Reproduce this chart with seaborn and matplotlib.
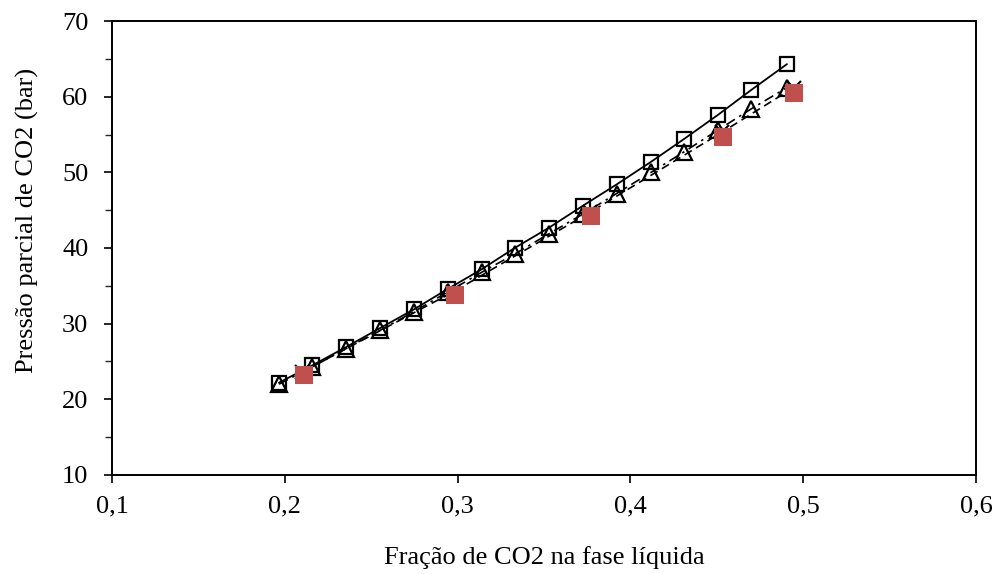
import matplotlib
matplotlib.use("Agg")
import matplotlib.pyplot as plt
import seaborn as sns
import numpy as np
from matplotlib.ticker import MultipleLocator, FuncFormatter

# Data
x_sq = [0.1966, 0.2160, 0.2354, 0.2550, 0.2748, 0.2944, 0.3140, 0.3330, 0.3530, 0.3726,
        0.3920, 0.4120, 0.4310, 0.4507, 0.4700, 0.4906]
y_sq = [22.2, 24.5, 26.9, 29.4, 31.9, 34.6, 37.2, 40.0, 42.7, 45.6,
        48.4, 51.4, 54.4, 57.6, 60.9, 64.3]

x_tri = [0.1966, 0.2160, 0.2354, 0.2550, 0.2748, 0.2944, 0.3140, 0.3330, 0.3530, 0.3726,
         0.3920, 0.4120, 0.4310, 0.4507, 0.4700, 0.4906]
y_tri = [22.0, 24.3, 26.7, 29.1, 31.6, 34.2, 36.8, 39.2, 41.9, 44.5,
         47.2, 50.0, 52.7, 55.6, 58.4, 61.2]

x_x = [0.2100, 0.2975, 0.3765, 0.4530, 0.4945]
y_x = [23.6, 34.2, 44.7, 55.3, 61.2]

x_red = [0.2111, 0.2985, 0.3770, 0.4536, 0.4947]
y_red = [23.2, 33.8, 44.2, 54.7, 60.5]

xticks = [0.1, 0.2, 0.3, 0.4, 0.5, 0.6]
yticks = [10, 20, 30, 40, 50, 60, 70]

sns.set_style("ticks")
plt.rcParams['font.family'] = ['Liberation Serif', 'DejaVu Serif']
plt.rcParams['text.color'] = 'black'
plt.rcParams['axes.labelcolor'] = 'black'

fig = plt.figure(figsize=(10.04, 5.74), dpi=100)
ax = fig.add_axes([0.1116, 0.1725, 0.8605, 0.7909])

sns.lineplot(x=x_tri, y=y_tri, ax=ax, sort=False, color='black', lw=1.2,
             linestyle=(0, (6, 3, 1.5, 3)), marker='^', markersize=11,
             markerfacecolor='none', markeredgecolor='black', markeredgewidth=1.6, zorder=2)
sns.lineplot(x=x_x, y=y_x, ax=ax, sort=False, color='black', lw=1.2,
             linestyle=(0, (5, 3)), marker='x', markersize=10,
             markeredgecolor='black', markeredgewidth=1.5, zorder=2)
sns.lineplot(x=x_sq, y=y_sq, ax=ax, sort=False, color='black', lw=1.3,
             linestyle='-', marker='s', markersize=10,
             markerfacecolor='none', markeredgecolor='black', markeredgewidth=1.6, zorder=3)
sns.scatterplot(x=x_red, y=y_red, ax=ax, marker='s', s=170, color='#C0504D',
                edgecolor='none', zorder=4)

ax.set_xlim(0.1, 0.6)
ax.set_ylim(10, 70)
ax.set_xticks(xticks)
ax.set_yticks(yticks)
ax.yaxis.set_minor_locator(MultipleLocator(5))
ax.xaxis.set_major_formatter(FuncFormatter(lambda v, p: f"{v:.1f}".replace('.', ',')))
ax.tick_params(axis='both', which='major', direction='out', length=6, width=1.2,
               labelsize=19, colors='black')
ax.tick_params(axis='y', which='major', pad=11)
ax.tick_params(axis='y', which='minor', direction='out', length=5, width=1.0)
ax.tick_params(axis='x', pad=9)
for s in ax.spines.values():
    s.set_visible(True)
    s.set_color('black')
    s.set_linewidth(1.4)

ax.set_xlabel("Fração de CO2 na fase líquida", fontsize=19, labelpad=20)
ax.set_ylabel("Pressão parcial de CO2 (bar)", fontsize=19)
ax.yaxis.set_label_coords(-0.085, 0.56)

fig.savefig("out.png", dpi=100)
